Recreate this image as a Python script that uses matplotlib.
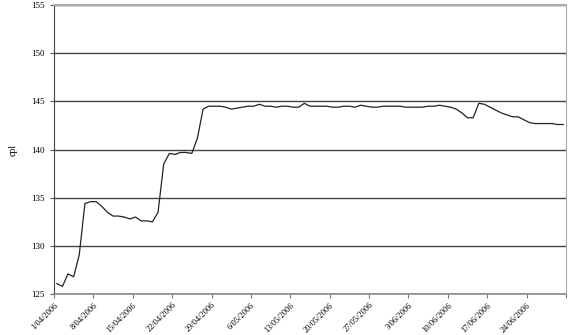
import numpy as np
import matplotlib
matplotlib.use("Agg")
import matplotlib.pyplot as plt

# daily values, 1/04/2006 .. 30/06/2006
cpl = [
    126.1, 125.8, 127.1, 126.8, 129.1, 134.4, 134.6, 134.6, 134.1, 133.5,
    133.1, 133.1, 133.0, 132.8, 133.0, 132.6, 132.6, 132.5, 133.5, 138.5,
    139.6, 139.5, 139.7, 139.7, 139.6, 141.2, 144.2, 144.5, 144.5, 144.5,
    144.4, 144.2, 144.3, 144.4, 144.5, 144.5, 144.7, 144.5, 144.5, 144.4,
    144.5, 144.5, 144.4, 144.4, 144.8, 144.5, 144.5, 144.5, 144.5, 144.4,
    144.4, 144.5, 144.5, 144.4, 144.6, 144.5, 144.4, 144.4, 144.5, 144.5,
    144.5, 144.5, 144.4, 144.4, 144.4, 144.4, 144.5, 144.5, 144.6, 144.5,
    144.4, 144.2, 143.8, 143.3, 143.3, 144.8, 144.7, 144.4, 144.1, 143.8,
    143.6, 143.4, 143.4, 143.1, 142.8, 142.7, 142.7, 142.7, 142.7, 142.6,
    142.6,
]
tick_labels = [
    "1/04/2006", "8/04/2006", "15/04/2006", "22/04/2006", "29/04/2006",
    "6/05/2006", "13/05/2006", "20/05/2006", "27/05/2006", "3/06/2006",
    "10/06/2006", "17/06/2006", "24/06/2006", "",
]
y_ticks = [125, 130, 135, 140, 145, 150, 155]

plt.rcParams['font.family'] = ['Liberation Serif', 'DejaVu Serif']

fig = plt.figure(figsize=(5.68, 3.35), dpi=100)
ax = fig.add_axes([0.095, 0.122, 0.9015, 0.863])

x = np.arange(len(cpl)) + 0.5
ax.plot(x, cpl, color='#222222', linewidth=0.9)

ax.set_xlim(0, len(cpl))
ax.set_ylim(125, 155)
ax.set_yticks(y_ticks)
ax.set_xticks(np.arange(0, len(cpl) + 1, 7))
ax.set_xticklabels(tick_labels, rotation=45, ha='right', rotation_mode='anchor', fontsize=6)
ax.tick_params(axis='y', labelsize=6.5, length=3, width=0.8, color='#555555')
ax.tick_params(axis='x', length=3, width=0.8, color='#777777', pad=2)

ax.yaxis.grid(True, color='#444444', linewidth=1.0)
ax.set_axisbelow(True)

ax.spines['left'].set_color('#444444')
ax.spines['bottom'].set_color('#888888')
ax.spines['bottom'].set_linewidth(1.2)
ax.spines['right'].set_color('#aaaaaa')
ax.spines['top'].set_color('#aaaaaa')
ax.spines['top'].set_linewidth(1.5)

ax.set_ylabel('cpl', fontsize=7, labelpad=10)

fig.savefig('out.png', dpi=100)
